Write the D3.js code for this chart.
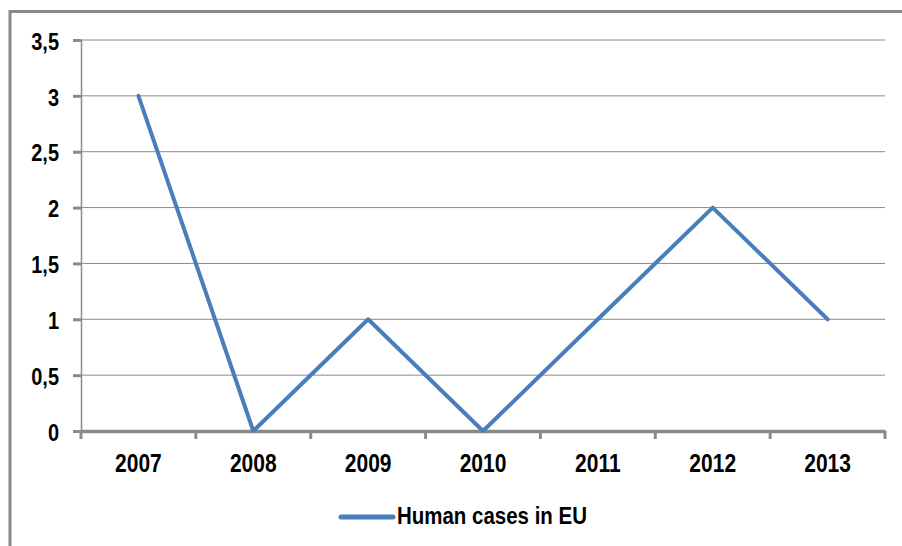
<!DOCTYPE html>
<html><head><meta charset="utf-8">
<script src="https://cdn.jsdelivr.net/npm/d3@7"></script>
<style>html,body{margin:0;padding:0;background:#fff;overflow:hidden}</style>
</head><body>
<svg id="c" width="902" height="546"></svg>
<script>
const years = ["2007","2008","2009","2010","2011","2012","2013"];
const humanCases = [3,0,1,0,1,2,1];
const yTicks = [0,0.5,1,1.5,2,2.5,3,3.5];
const seriesName = "Human cases in EU";

const svg = d3.select("#c");
const fmt = d3.formatLocale({decimal:",",thousands:".",grouping:[3],currency:["",""]}).format("~g");

// outer frame
svg.append("path").attr("d","M10,546 V11.5 H902").attr("fill","none").attr("stroke","#888").attr("stroke-width",3);

const x = d3.scaleBand().domain(years).range([81,885]).padding(0);
const y = d3.scaleLinear().domain([0,3.5]).range([431,40]);

// gridlines
svg.append("g").selectAll("line").data(yTicks.filter(d=>d>0)).join("line")
  .attr("x1",81).attr("x2",885).attr("y1",d=>y(d)).attr("y2",d=>y(d))
  .attr("stroke","#8a8a8a").attr("stroke-width",1);

// y axis
const yAxis = svg.append("g").attr("transform","translate(81,0)")
  .call(d3.axisLeft(y).tickValues(yTicks).tickFormat(fmt).tickSize(8).tickPadding(14));
yAxis.select(".domain").attr("stroke","#8a8a8a").attr("stroke-width",1.5);
yAxis.selectAll(".tick line").attr("stroke","#8a8a8a").attr("stroke-width",3);
yAxis.selectAll(".tick text").attr("font-family","Liberation Sans, Arial, sans-serif").attr("font-weight","bold")
  .attr("font-size",20).attr("fill","#000").attr("dy",null).attr("dominant-baseline","central")
  .attr("transform","scale(1,1.2)").attr("y",function(d){return 0;})
  .each(function(d){ const t=d3.select(this); t.attr("transform",null); });
yAxis.selectAll(".tick text").attr("transform","translate(0,1) scale(1,1.2)");

// x axis
const xAxis = svg.append("g").attr("transform","translate(0,431)")
  .call(d3.axisBottom(x).tickSize(0).tickPadding(22));
xAxis.select(".domain").attr("stroke","#8a8a8a").attr("stroke-width",3.5);
xAxis.selectAll(".tick text").attr("font-family","Liberation Sans, Arial, sans-serif").attr("font-weight","bold")
  .attr("font-size",21).attr("fill","#000").attr("dy","0.71em").attr("transform","scale(1,1.2)").attr("y",19);
// boundary tick marks
const bounds = years.map(d=>x(d)).concat([x(years[years.length-1])+x.bandwidth()]);
svg.append("g").selectAll("line").data(bounds).join("line")
  .attr("x1",d=>d).attr("x2",d=>d).attr("y1",431).attr("y2",439)
  .attr("stroke","#8a8a8a").attr("stroke-width",3);

// series line
const line = d3.line().x((d,i)=>x(years[i])+x.bandwidth()/2).y(d=>y(d));
svg.append("path").datum(humanCases).attr("d",line).attr("fill","none")
  .attr("stroke","#4a7ebb").attr("stroke-width",4).attr("stroke-linejoin","round").attr("stroke-linecap","round");

// legend
const lg = svg.append("g");
lg.append("line").attr("x1",341).attr("x2",393).attr("y1",517).attr("y2",517)
  .attr("stroke","#4a7ebb").attr("stroke-width",5).attr("stroke-linecap","round");
lg.append("text").attr("x",397).attr("y",0).attr("transform","translate(0,524) scale(1,1.2)")
  .attr("font-family","Liberation Sans, Arial, sans-serif").attr("font-weight","bold").attr("font-size",20)
  .attr("textLength",190).attr("lengthAdjust","spacingAndGlyphs").text(seriesName);
</script>
</body></html>
